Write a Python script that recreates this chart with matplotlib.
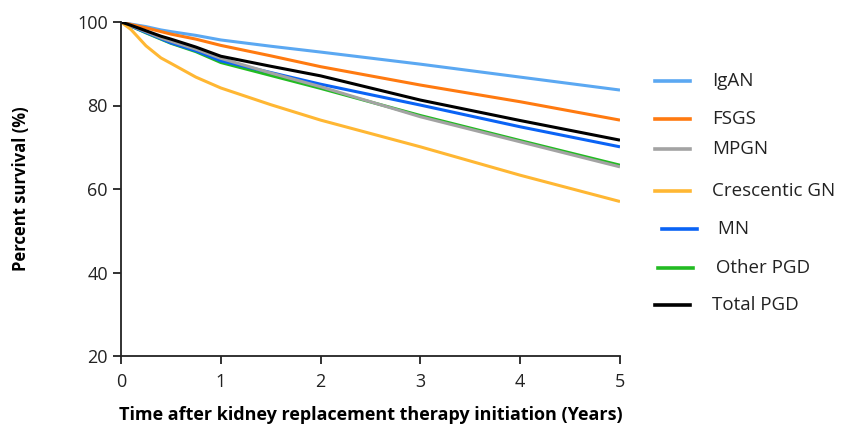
import numpy as np
import matplotlib
matplotlib.use("Agg")
import matplotlib.pyplot as plt
from matplotlib.lines import Line2D

plt.rcParams["font.family"] = ["Open Sans", "DejaVu Sans"]

# years after KRT initiation, and survival (%)
years = [0, 0.1, 0.25, 0.4, 0.5, 0.75, 1, 1.5, 2, 3, 4, 5]
igan = [100, 99.5, 98.9, 98.1, 97.7, 96.8, 95.7, 94.2, 92.8, 89.9, 86.8, 83.7]
fsgs = [100, 99.4, 98.6, 97.7, 97.1, 95.9, 94.4, 91.9, 89.3, 84.9, 80.9, 76.5]
mpgn = [100, 99.1, 97.7, 96.2, 95.4, 93.5, 91.3, 87.8, 84.5, 77.3, 71.3, 65.3]
crescentic = [100, 98.2, 94.3, 91.4, 90.1, 86.8, 84.2, 80.2, 76.5, 70.1, 63.3, 57.0]
mn = [100, 99.0, 97.5, 96.0, 95.0, 93.1, 90.7, 87.9, 85.1, 80.1, 74.9, 70.1]
other_pgd = [100, 99.0, 97.4, 95.9, 94.9, 92.9, 90.3, 87.2, 84.1, 77.6, 71.6, 65.7]
total_pgd = [100, 99.2, 97.9, 96.6, 95.9, 94.0, 91.8, 89.4, 87.1, 81.3, 76.4, 71.7]

labels = ["IgAN", "FSGS", "MPGN", "Crescentic GN", " MN", " Other PGD", "Total PGD"]
colors = ["#5BA8F2", "#FF7A10", "#A3A3A3", "#FFB733", "#0A63F5", "#22BB22", "#000000"]
series = [igan, fsgs, mpgn, crescentic, mn, other_pgd, total_pgd]

W, H = 841, 428
fig = plt.figure(figsize=(W / 100, H / 100), dpi=100)
ax = fig.add_axes([121 / W, 1 - 356 / H, (620 - 121) / W, (356 - 22) / H])

draw_order = [0, 1, 5, 4, 2, 3, 6]
for i in draw_order:
    ax.plot(years, series[i], color=colors[i], lw=2.2, solid_capstyle="butt")

ax.set_xlim(0, 5)
ax.set_ylim(20, 100)
ax.set_xticks([0, 1, 2, 3, 4, 5])
ax.set_yticks([20, 40, 60, 80, 100])
for s in ["top", "right"]:
    ax.spines[s].set_visible(False)
for s in ["left", "bottom"]:
    ax.spines[s].set_linewidth(1.3)
    ax.spines[s].set_color("#222222")
ax.tick_params(direction="out", length=6, width=1.3, labelsize=13, colors="#222222")
ax.tick_params(axis="x", pad=6)
ax.set_xlabel("Time after kidney replacement therapy initiation (Years)",
              fontsize=13, fontweight="bold", labelpad=11)
ax.set_ylabel("Percent survival (%)", fontsize=12, fontweight="bold", labelpad=34)

# hand-placed legend entries (uneven spacing as in the original)
leg_y = [81, 119, 149, 191, 229, 268, 305]
leg_x0 = [655, 655, 655, 655, 662, 658, 655]
leg_tx = [712, 712, 712, 712, 713, 711, 712]
for lab, c, yy, x0, tx in zip(labels, colors, leg_y, leg_x0, leg_tx):
    fig.add_artist(Line2D([x0 / W, (x0 + 35) / W], [1 - yy / H, 1 - yy / H],
                          color=c, lw=2.6, transform=fig.transFigure))
    fig.text(tx / W, 1 - yy / H, lab, fontsize=13.5, va="center", ha="left", color="#222222")

fig.savefig("out.png", dpi=100)
